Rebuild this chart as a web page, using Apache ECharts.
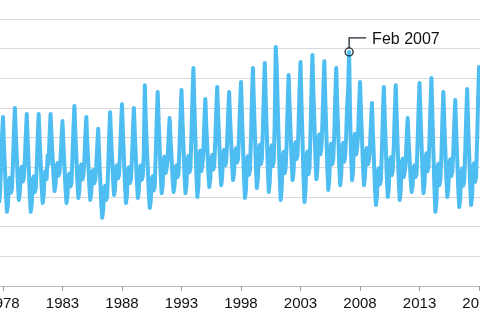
<!DOCTYPE html>
<html>

<head>
  <meta charset="utf-8">
  <script src="https://cdn.jsdelivr.net/npm/echarts@6.0.0/dist/echarts.min.js"></script>
  <style>
    html, body {
      margin: 0;
      padding: 0;
      background: #fff;
    }
    #chart {
      width: 480px;
      height: 320px;
    }
  </style>
</head>

<body>
  <div id="chart"></div>
  <script>
    // first month of the series
    const startYear = 1977
    const startMonth = 9
    // monthly values, one row per year (Jan..Dec)
    const values = [
      /* 1977 */ 28, 31, 40, 50,
      /* 1978 */ 57, 47.4, 39.4, 30.8, 25, 27.6, 35.6, 36.5, 31.4, 32.7, 40.8, 51.3,
      /* 1979 */ 60, 50.7, 43, 34.6, 29, 31.5, 39.2, 40.2, 35.2, 36.4, 42, 50.8,
      /* 1980 */ 58, 48.1, 39.9, 30.9, 25, 27.6, 35.9, 36.9, 31.6, 32.9, 39.9, 49.8,
      /* 1981 */ 58, 49, 41.5, 33.4, 28, 30.4, 37.9, 38.8, 36, 44, 41, 51,
      /* 1982 */ 58, 50.2, 43.7, 36.7, 32, 34.1, 40.6, 41.4, 37.2, 38.2, 42.6, 49.7,
      /* 1983 */ 55.6, 47.3, 40.4, 33, 28, 30.2, 37.1, 37.9, 33.5, 34.6, 42.7, 52.5,
      /* 1984 */ 60.7, 51.4, 43.7, 35.3, 29.7, 32.2, 39.9, 40.9, 35.9, 37.1, 42, 50.2,
      /* 1985 */ 57, 48.6, 41.6, 34, 29, 31.2, 38.2, 39.1, 34.6, 35.7, 39.8, 47,
      /* 1986 */ 53, 44, 36.5, 28.4, 23, 25.4, 32.9, 33.8, 29, 30.2, 39, 49.7,
      /* 1987 */ 58.6, 50.2, 43.3, 35.7, 30.7, 32.9, 39.9, 40.7, 36.3, 37.4, 44.5, 53.7,
      /* 1988 */ 61.3, 51.3, 43, 34, 28, 30.7, 39, 40, 34.7, 36, 42.4, 52,
      /* 1989 */ 60, 50.9, 43.3, 35.2, 29.7, 32.1, 39.7, 40.6, 35.8, 37, 45, 67.7,
      /* 1990 */ 56, 47.1, 39.7, 31.6, 26.3, 28.7, 36.1, 37, 32.2, 33.4, 43.9, 55.6,
      /* 1991 */ 65.4, 55.2, 46.6, 37.4, 31.3, 34, 42.6, 43.6, 38.1, 39.5, 42.7, 50.3,
      /* 1992 */ 56.6, 49.1, 42.9, 36.2, 31.7, 33.7, 39.9, 40.7, 36.7, 37.7, 47.2, 57.5,
      /* 1993 */ 66.1, 55.7, 47, 37.6, 31.3, 34.1, 42.8, 43.8, 38.3, 39.7, 50.3, 63,
      /* 1994 */ 73.5, 60.5, 49.6, 37.8, 30, 33.5, 44.4, 45.7, 38.7, 40.4, 44.9, 54.8,
      /* 1995 */ 63, 54.1, 46.7, 38.7, 33.4, 35.8, 43.2, 44.1, 39.3, 40.5, 48.6, 58.7,
      /* 1996 */ 67.1, 57.2, 48.9, 40, 34, 36.6, 44.9, 45.9, 40.6, 41.9, 48.1, 57.6,
      /* 1997 */ 65.4, 56.5, 49.1, 41, 35.7, 38.1, 45.5, 46.4, 41.6, 42.8, 50.6, 60.5,
      /* 1998 */ 68.8, 57.1, 47.3, 36.7, 29.7, 32.8, 42.6, 43.8, 37.5, 39.1, 49.4, 62.6,
      /* 1999 */ 73.5, 61.4, 51.2, 40.3, 33, 36.2, 46.4, 47.6, 41.1, 42.7, 52, 64.7,
      /* 2000 */ 75.2, 62.2, 51.3, 39.5, 31.7, 35.2, 46.1, 47.4, 40.4, 42.1, 55, 80.6,
      /* 2001 */ 74, 60.5, 49.3, 37.1, 29, 32.6, 43.9, 45.2, 38, 39.8, 47.9, 60.6,
      /* 2002 */ 71.1, 60.5, 51.6, 42.1, 35.7, 38.5, 47.4, 48.4, 42.8, 44.2, 53.6, 65.6,
      /* 2003 */ 75.5, 61.3, 49.5, 36.8, 28.3, 32.1, 43.9, 45.3, 37.7, 39.6, 50.6, 65.5,
      /* 2004 */ 77.9, 65.3, 54.9, 43.5, 36, 39.4, 49.8, 51.1, 44.4, 46.1, 53.9, 65.9,
      /* 2005 */ 75.8, 62.8, 51.9, 40.2, 32.4, 35.9, 46.7, 48, 41.1, 42.8, 50.9, 63.2,
      /* 2006 */ 73.5, 61.7, 51.8, 41.1, 34, 37.2, 47, 48.2, 41.9, 43.5, 50.2, 61,
      /* 2007 */ 66, 78.9, 57.3, 44.3, 35.7, 39.2, 49.9, 51.3, 44.3, 46.1, 50.6, 60.5,
      /* 2008 */ 68.8, 58.4, 49.7, 40.3, 34, 36.8, 45.5, 46.5, 41, 42.4, 46.5, 54.8,
      /* 2009 */ 61.7, 51.4, 42.8, 33.5, 27.3, 30.1, 38.7, 39.7, 34.2, 35.6, 45.2, 57.2,
      /* 2010 */ 67.1, 56, 46.7, 36.7, 30, 33, 42.2, 43.4, 37.4, 38.9, 47, 58.3,
      /* 2011 */ 67.7, 56.1, 46.4, 36, 29, 32.1, 41.8, 42.9, 36.7, 38.3, 41.4, 49.7,
      /* 2012 */ 56.6, 49.1, 42.9, 36.2, 31.7, 33.7, 39.9, 40.7, 36.7, 37.7, 48.2, 59.2,
      /* 2013 */ 68.4, 57.3, 48, 38, 31.3, 34.3, 43.5, 44.7, 38.7, 40.2, 48.8, 60.4,
      /* 2014 */ 70.1, 56.6, 45.3, 33.1, 25, 28.6, 39.9, 41.2, 34, 35.8, 43.2, 55.3,
      /* 2015 */ 65.4, 54.8, 45.9, 36.4, 30, 32.8, 41.7, 42.7, 37.1, 38.5, 44.7, 54.5,
      /* 2016 */ 62.7, 51.9, 42.8, 33.1, 26.6, 29.5, 38.5, 39.6, 33.8, 35.3, 44.5, 56.5,
      /* 2017 */ 66.4, 54.7, 44.9, 34.3, 27.3, 30.4, 40.2, 41.4, 35.1, 36.7, 48.2, 62.2,
      /* 2018 */ 73.8, 62
    ]
    const tickYears = [1978, 1983, 1988, 1993, 1998, 2003, 2008, 2013, 2018]
    const note = { year: 2007, month: 2, label: 'Feb 2007' }

    // x as decimal year
    const points = values.map((v, i) => {
      const m = startMonth - 1 + i
      return [startYear + m / 12, v]
    })

    const chart = echarts.init(document.getElementById('chart'))
    chart.setOption({
      animation: false,
      grid: {
        left: 0, right: 0, top: 19, bottom: 34,
        containLabel: false,
        outerBoundsMode: 'none'
      },
      xAxis: {
        type: 'value',
        min: 1977.75,
        max: 2018.08,
        splitLine: { show: false },
        axisLine: { lineStyle: { color: '#bdbdbd', width: 1 } },
        axisTick: {
          customValues: tickYears,
          length: 5,
          lineStyle: { color: '#9e9e9e' }
        },
        axisLabel: {
          customValues: tickYears,
          formatter: v => String(v),
          margin: 10,
          color: '#111',
          fontSize: 15,
          fontFamily: 'Liberation Sans'
        }
      },
      yAxis: {
        type: 'value',
        min: 0,
        max: 90,
        interval: 10,
        axisLine: { show: false },
        axisTick: { show: false },
        axisLabel: { show: false },
        splitLine: { lineStyle: { color: '#d9d9d9', width: 1 } }
      },
      series: [{
        type: 'line',
        data: points,
        showSymbol: false,
        lineStyle: { color: '#4dbdf2', width: 4, join: 'round' },
        itemStyle: { color: '#4dbdf2' }
      }]
    })

    // callout for the highlighted month
    const idx = (note.year - startYear) * 12 + note.month - startMonth
    const [px, py] = chart.convertToPixel({ gridIndex: 0 }, points[idx])
    chart.setOption({
      graphic: [
        {
          type: 'circle',
          shape: { cx: px, cy: py, r: 4 },
          style: { fill: 'rgba(0,0,0,0)', stroke: '#1b2630', lineWidth: 1.3 },
          z: 100
        },
        {
          type: 'polyline',
          shape: { points: [[px, py - 4], [px, py - 14], [px + 17, py - 14]] },
          style: { stroke: '#1b2630', lineWidth: 1.3, fill: null },
          z: 100
        },
        {
          type: 'text',
          x: px + 23,
          y: py - 12,
          style: {
            text: note.label,
            fill: '#111',
            font: '16px "Liberation Sans"',
            verticalAlign: 'middle'
          },
          z: 100
        }
      ]
    })
  </script>
</body>

</html>
